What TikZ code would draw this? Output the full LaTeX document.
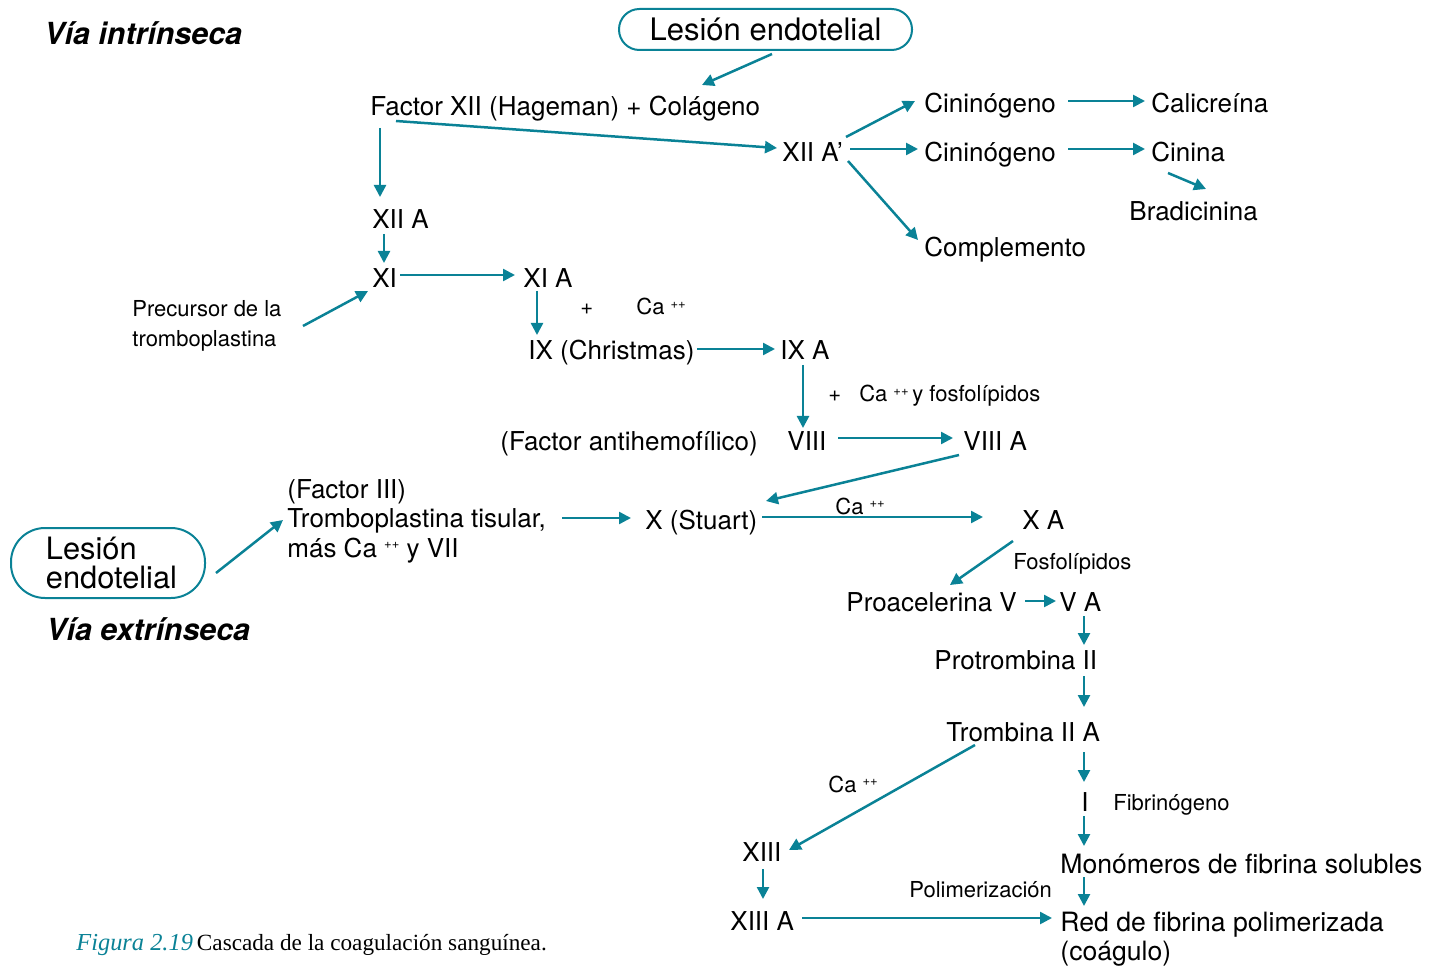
\documentclass[tikz,border=0pt]{standalone}
\usepackage{fontspec}
\setmainfont{TeX Gyre Heros}
\newfontfamily\capfont{Liberation Serif}
\usetikzlibrary{arrows.meta,calc}
\definecolor{cascade}{RGB}{10,130,150}
\newcommand\dplus{\raisebox{0.6ex}{\fontsize{6.5}{7}\selectfont ++}}
\begin{document}
\begin{tikzpicture}[x=0.5pt,y=-0.5pt,
  lbl/.style={anchor=base west, inner sep=0pt, yshift=-1pt, font=\fontsize{13}{15}\selectfont},
  big/.style={anchor=base west, inner sep=0pt, yshift=-1pt, font=\fontsize{13.3}{15}\selectfont},
  sml/.style={anchor=base west, inner sep=0pt, yshift=-1pt, font=\fontsize{11}{13}\selectfont},
  ttl/.style={anchor=base west, inner sep=0pt, yshift=-1.2pt, font=\fontsize{15.2}{18}\selectfont\bfseries\itshape},
  lesion/.style={draw=cascade, line width=1pt, inner sep=0pt},
  arr/.style={draw=cascade, line width=1.25pt, transform canvas={yshift=1pt},
              -{Triangle[length=6pt,width=6pt]}}]
\useasboundingbox (0,0) rectangle (1433,967);

% --- intrinsic pathway ---
\node[ttl] (vint) at (44,42) {Vía intrínseca};
\node[lesion, minimum width=146.5pt, minimum height=20.5pt, rounded corners=10.2pt,
      font=\fontsize{15.5}{18}\selectfont] (les1) at (765.5,29.5) {Lesión\ endotelial};
\node[lbl] (f12) at (370,114) {Factor XII (Hageman) + Colágeno};
\node[lbl] (x12a1) at (782,160) {XII A’};
\node[lbl] (cin1) at (924,111) {Cininógeno};
\node[lbl] (cal) at (1151,111) {Calicreína};
\node[lbl] (cin2) at (924,160) {Cininógeno};
\node[lbl] (cinina) at (1151,160) {Cinina};
\node[lbl] (brad) at (1129,219) {Bradicinina};
\node[lbl] (comp) at (924,255) {Complemento};
\node[lbl] (x12a) at (372,227) {XII A};
\node[lbl] (xi) at (372,286) {XI};
\node[lbl] (xia) at (523,286) {XI A};
\node[sml] (prec1) at (132,315) {Precursor de la};
\node[sml] (prec2) at (132,345) {tromboplastina};
\node[sml] (plus1) at (580,313) {+};
\node[sml] (ca1) at (636,313) {Ca \dplus};
\node[lbl] (ix) at (528,358) {IX (Christmas)};
\node[lbl] (ixa) at (780,358) {IX A};
\node[sml] (cafos) at (828,400) {+\hspace{9pt}Ca \dplus\,y fosfolípidos};
\node[lbl] (fah) at (500,449) {(Factor antihemofílico)};
\node[lbl] (viii) at (787,449) {VIII};
\node[lbl] (viiia) at (963,449) {VIII A};

% --- extrinsic pathway ---
\node[lesion, minimum width=97pt, minimum height=35pt, rounded corners=17pt, align=left,
      font=\fontsize{15.4}{14.5}\selectfont] (les2) at (108,563)
      {\hspace*{3.5pt}Lesión\\\hspace*{3.5pt}endotelial};
\node[ttl] (vext) at (46,638) {Vía extrínseca};
\node[lbl] (f3a) at (287,496) {(Factor III)};
\node[lbl] (f3b) at (287,525) {Tromboplastina tisular,};
\node[lbl] (f3c) at (287,555) {más Ca \dplus\ y VII};

% --- common pathway ---
\node[lbl] (xst) at (645,527) {X (Stuart)};
\node[sml] (ca2) at (835,512) {Ca \dplus};
\node[lbl] (xa) at (1022,527) {X A};
\node[sml] (fosf) at (1013,567) {Fosfolípidos};
\node[lbl] (proac) at (846,609) {Proacelerina V};
\node[lbl] (va) at (1059,609) {V A};
\node[lbl] (protr) at (934,667) {Protrombina II};
\node[lbl] (tromb) at (946,739) {Trombina II A};
\node[sml] (ca3) at (828,790) {Ca \dplus};
\node[lbl] (fI) at (1081,809) {I};
\node[sml] (fibr) at (1113,808) {Fibrinógeno};
\node[lbl] (xiii) at (742,859) {XIII};
\node[big] (mono) at (1060,871) {Monómeros de fibrina solubles};
\node[sml] (polim) at (909,895) {Polimerización};
\node[lbl] (xiiia) at (730,928) {XIII A};
\node[big] (red) at (1060,929) {Red de fibrina polimerizada};
\node[big] (coag) at (1060,958) {(coágulo)};

\node[anchor=base west, inner sep=0pt] (caption) at (76,950)
  {\capfont\fontsize{11.6}{13}\selectfont{\color{cascade}\itshape\fontsize{12.2}{13}\selectfont Figura 2.19}\hspace{2pt}Cascada de la coagulación sanguínea.};

% --- connectors ---
\draw[arr] ($(les1.south)+(6.5,5)$) -- ($(f12.base west)+(332,-29)$);
\draw[arr] ($(f12.base west)+(26,7)$) -- ($(x12a1.base west)+(-5,-12)$);
\draw[arr] ($(f12.base west)+(10,14)$) -- ($(x12a.base west)+(8,-30)$);
\draw[arr] ($(x12a.base west)+(12,7)$) -- ($(xi.base west)+(12,-23)$);
\draw[arr] ($(xi.base west)+(28,-11)$) -- ($(xia.base west)+(-8,-11)$);
\draw[arr] ($(prec1.base west)+(171,11)$) -- ($(xi.base west)+(-4,5)$);
\draw[arr] ($(xia.base west)+(14,5)$) -- ($(ix.base west)+(9,-23)$);
\draw[arr] ($(ix.base west)+(169,-9)$) -- ($(ixa.base west)+(-5,-9)$);
\draw[arr] ($(ixa.base west)+(23,7)$) -- ($(viii.base west)+(16,-21)$);
\draw[arr] ($(viii.base west)+(51,-11)$) -- ($(viiia.base west)+(-10,-11)$);
\draw[arr] ($(viiia.base west)+(-4,6)$) -- ($(xst.base west)+(121,-26)$);
\draw[arr] ($(les2.east)+(10,12)$) -- ($(f3b.base west)+(-4,-5)$);
\draw[arr] ($(f3b.base west)+(275,-7)$) -- ($(xst.base west)+(-14,-9)$);
\draw[arr] ($(xst.base west)+(117,-10)$) -- ($(xa.base west)+(-39,-10)$);
\draw[arr] ($(xa.base west)+(-9,14)$) -- ($(proac.base west)+(104,-24)$);
\draw[arr] ($(proac.base west)+(179,-8)$) -- ($(va.base west)+(-3,-8)$);
\draw[arr] ($(va.base west)+(25,7)$) -- ($(protr.base west)+(150,-22)$);
\draw[arr] ($(protr.base west)+(150,9)$) -- ($(tromb.base west)+(138,-32)$);
\draw[arr] ($(tromb.base west)+(29,6)$) -- ($(xiii.base west)+(47,-9)$);
\draw[arr] ($(tromb.base west)+(138,13)$) -- ($(fI.base west)+(3,-27)$);
\draw[arr] ($(fI.base west)+(3,7)$) -- ($(mono.base west)+(24,-25)$);
\draw[arr] ($(mono.base west)+(24,6)$) -- ($(red.base west)+(24,-23)$);
\draw[arr] ($(xiii.base west)+(21,10)$) -- ($(xiiia.base west)+(33,-29)$);
\draw[arr] ($(xiiia.base west)+(72,-10)$) -- ($(red.base west)+(-8,-11)$);
\draw[arr] ($(x12a1.base west)+(64,-23)$) -- ($(cin1.base west)+(-9,-10)$);
\draw[arr] ($(cin1.base west)+(144,-10)$) -- ($(cal.base west)+(-6,-10)$);
\draw[arr] ($(x12a1.base west)+(68,-11)$) -- ($(cin2.base west)+(-6,-11)$);
\draw[arr] ($(cin2.base west)+(144,-11)$) -- ($(cinina.base west)+(-6,-11)$);
\draw[arr] ($(cinina.base west)+(17,13)$) -- ($(brad.base west)+(77,-30)$);
\draw[arr] ($(x12a1.base west)+(66,1)$) -- ($(comp.base west)+(-6,-15)$);
\end{tikzpicture}
\end{document}
